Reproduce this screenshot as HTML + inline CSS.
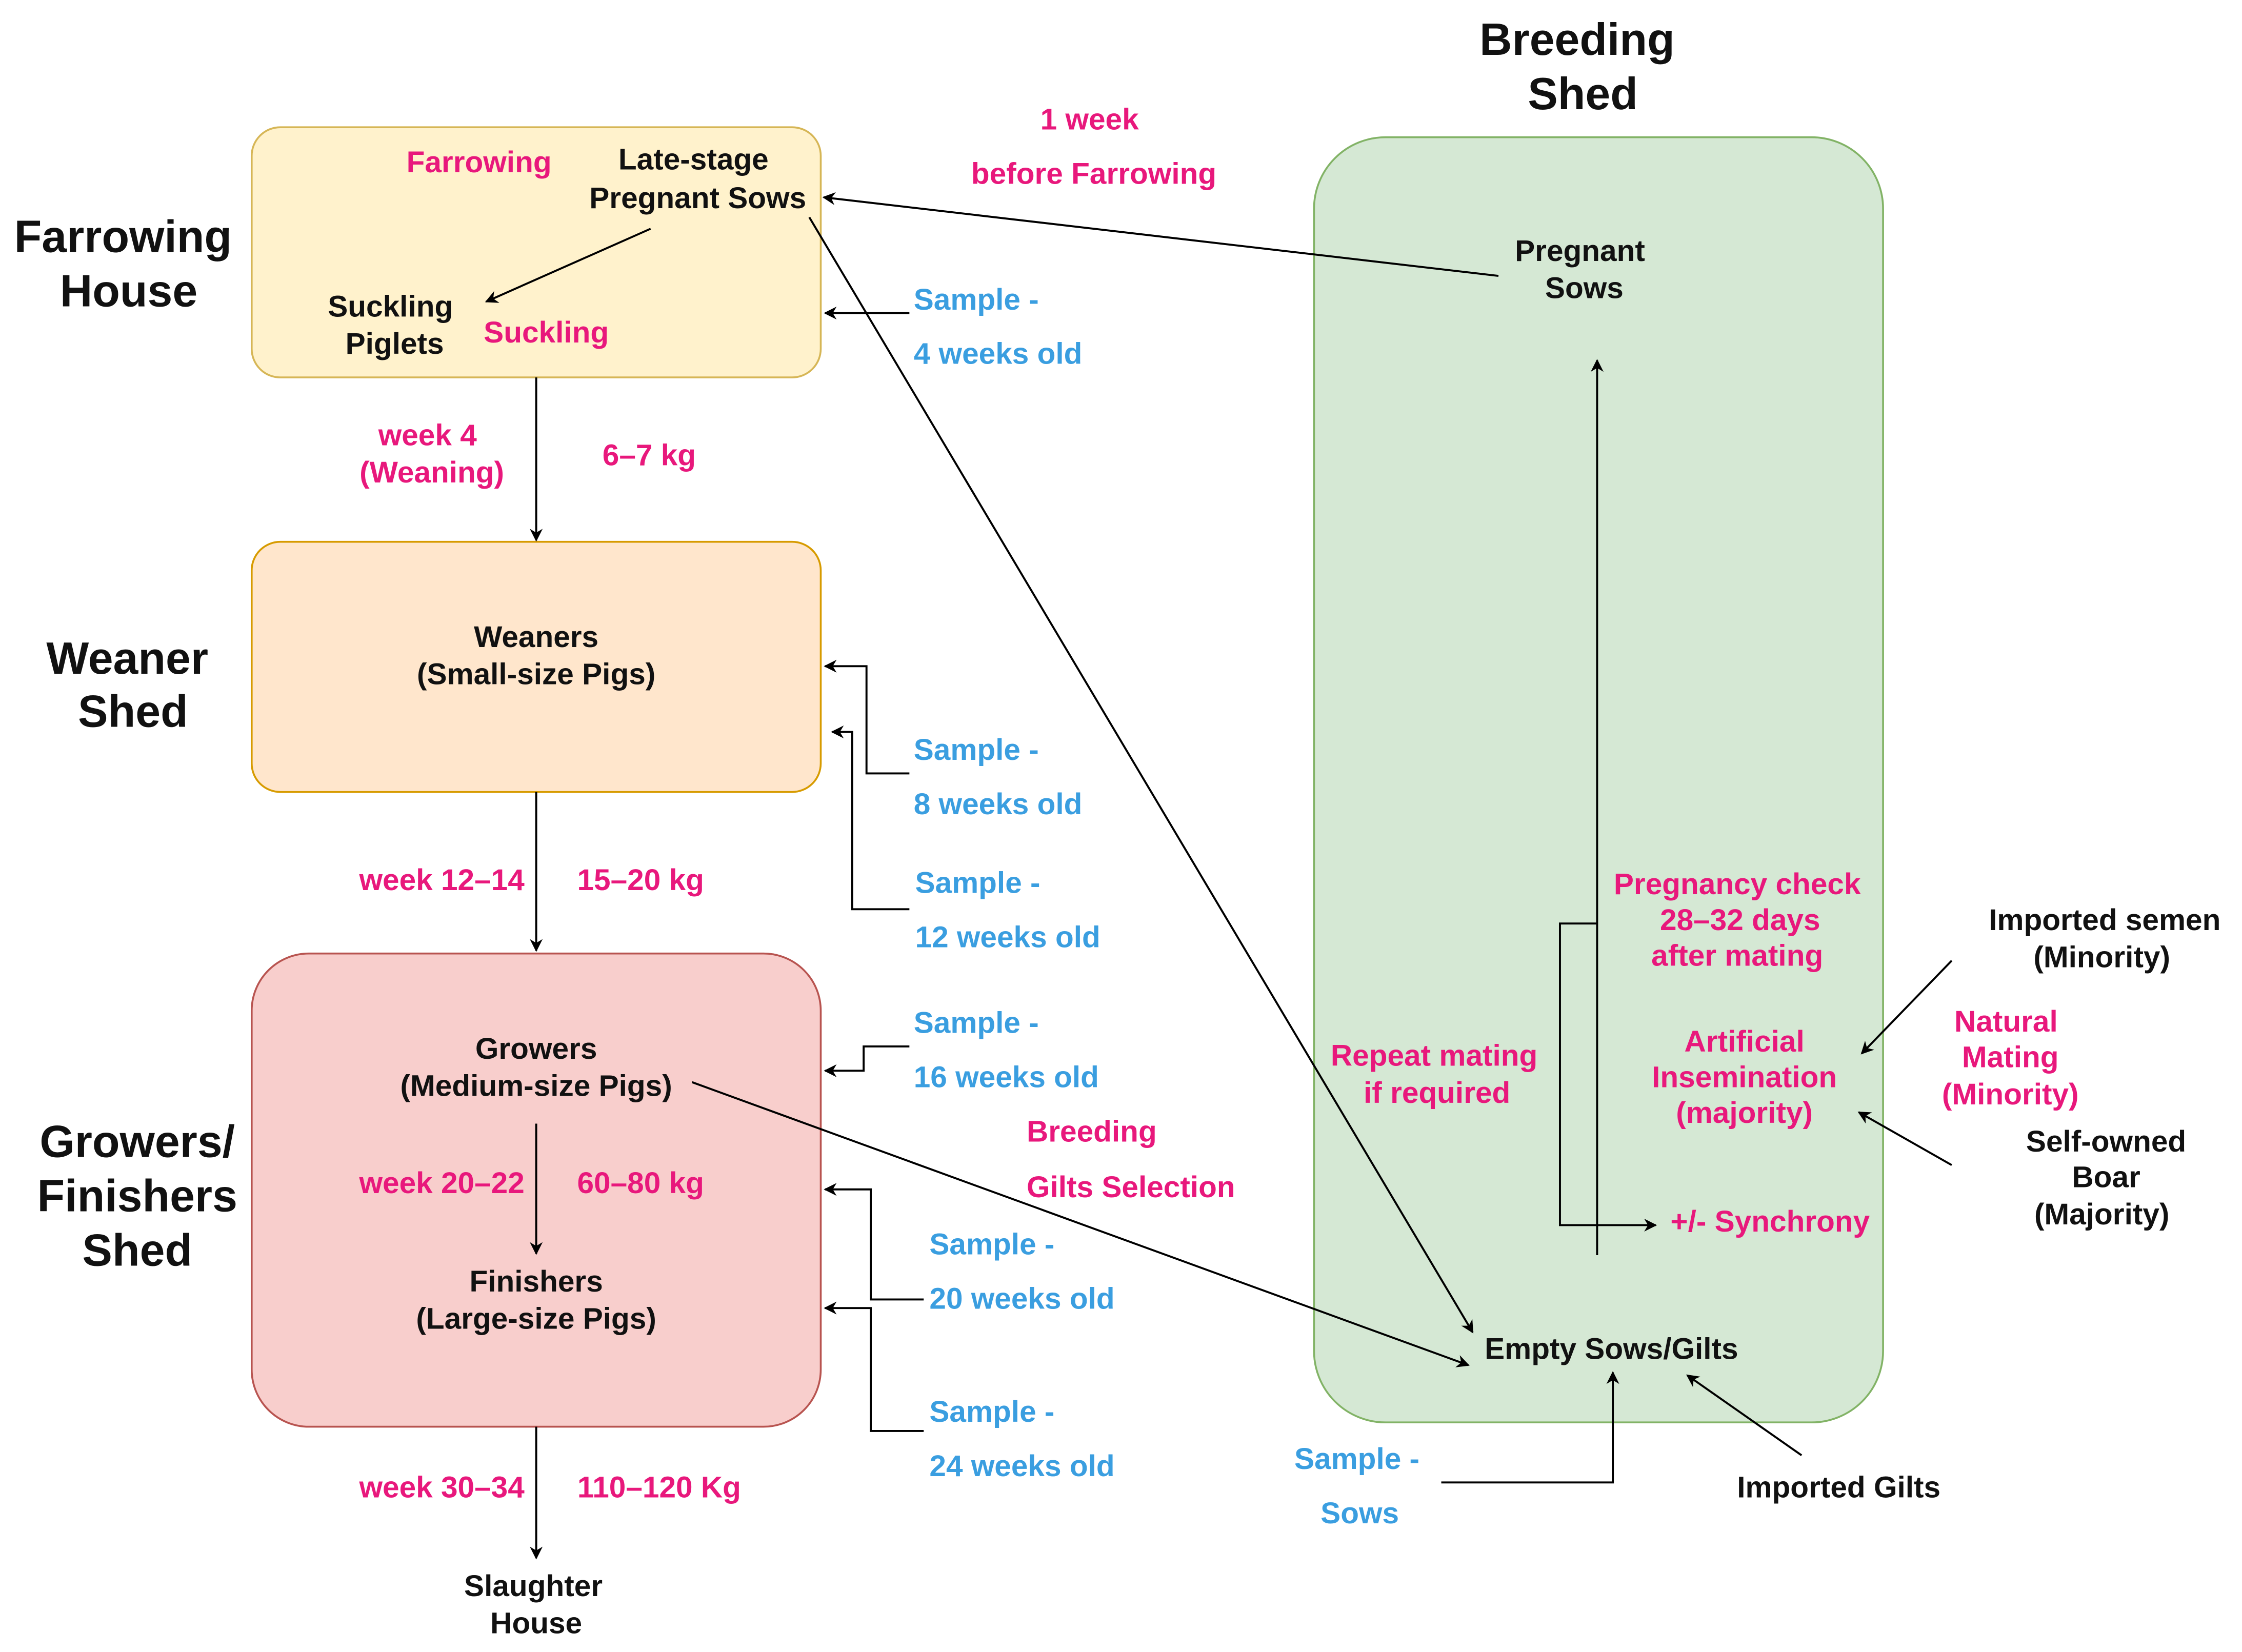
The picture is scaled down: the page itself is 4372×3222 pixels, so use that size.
<!DOCTYPE html>
<html><head><meta charset="utf-8"><style>
html,body{margin:0;padding:0;background:#fff;}
svg{display:block;}
text{font-family:"Liberation Sans",Arial,sans-serif;font-weight:bold;font-size:21px;text-anchor:middle;dominant-baseline:middle;}
.k{fill:#111;}
.p{fill:#e8187c;}
.b{fill:#3a9ee0;}
.l{text-anchor:start;}
.h{font-size:31.5px;fill:#111;}
line,polyline,path{stroke:#000;stroke-width:1.4;fill:none;}
</style></head><body>
<svg width="4372" height="3222" viewBox="0 0 1568 1155.6" xmlns="http://www.w3.org/2000/svg">
<defs><marker id="a" viewBox="0 0 10 10" refX="9" refY="5" markerWidth="9" markerHeight="9" orient="auto-start-reverse" markerUnits="userSpaceOnUse"><path d="M0,0 L10,5 L0,10 L3,5 z" style="fill:#000;stroke:none"/></marker></defs>
<rect x="176" y="89" width="398" height="175" rx="20" fill="#fff2cc" stroke="#d6b656" stroke-width="1.3"/>
<rect x="176" y="379" width="398" height="175" rx="20" fill="#ffe6cc" stroke="#d79b00" stroke-width="1.3"/>
<rect x="176" y="667" width="398" height="331" rx="40" fill="#f8cecc" stroke="#b85450" stroke-width="1.3"/>
<rect x="919" y="96" width="398" height="899" rx="50" fill="#d5e8d4" stroke="#82b366" stroke-width="1.3"/>

<text class="h" x="86" y="168">Farrowing</text><text class="h" x="90" y="206">House</text>
<text class="h" x="89" y="463">Weaner</text><text class="h" x="93" y="500">Shed</text>
<text class="h" x="96" y="801">Growers/</text><text class="h" x="96" y="839">Finishers</text><text class="h" x="96" y="877">Shed</text>
<text class="h" x="1103" y="30">Breeding</text><text class="h" x="1107" y="68">Shed</text>

<g marker-end="url(#a)">
<line x1="1048" y1="193" x2="576" y2="138"/>
<line x1="636" y1="219" x2="577" y2="219"/>
<line x1="566" y1="152" x2="1030" y2="932"/>
<line x1="455" y1="160" x2="340" y2="211"/>
<line x1="375" y1="264" x2="375" y2="378"/>
<line x1="375" y1="554" x2="375" y2="665"/>
<line x1="375" y1="786" x2="375" y2="877"/>
<line x1="375" y1="998" x2="375" y2="1090"/>
<polyline points="636,541 606,541 606,466 577,466"/>
<polyline points="636,636 596,636 596,512 582,512"/>
<polyline points="636,732 604,732 604,749 577,749"/>
<polyline points="646,909 609,909 609,832 577,832"/>
<polyline points="646,1001 609,1001 609,915 577,915"/>
<line x1="484" y1="757" x2="1027" y2="955"/>
<line x1="1117" y1="878" x2="1117" y2="252"/>
<polyline points="1117,646 1091,646 1091,857 1158,857"/>
<line x1="1365" y1="672" x2="1302" y2="737"/>
<line x1="1365" y1="815" x2="1300" y2="778"/>
<polyline points="1008,1037 1128,1037 1128,960"/>
<line x1="1260" y1="1018" x2="1180" y2="962"/>
</g>

<text class="p" x="762" y="85">1 week</text><text class="p" x="765" y="123">before Farrowing</text>
<text class="p" x="335" y="115">Farrowing</text>
<text class="k" x="485" y="113">Late-stage</text><text class="k" x="488" y="140">Pregnant Sows</text>
<text class="k" x="273" y="216">Suckling</text><text class="k" x="276" y="242">Piglets</text>
<text class="p" x="382" y="234">Suckling</text>
<text class="b l" x="639" y="211">Sample -</text><text class="b l" x="639" y="249">4 weeks old</text>
<text class="p" x="299" y="306">week 4</text><text class="p" x="302" y="332">(Weaning)</text><text class="p" x="454" y="320">6–7 kg</text>
<text class="k" x="375" y="447">Weaners</text><text class="k" x="375" y="473">(Small-size Pigs)</text>
<text class="b l" x="639" y="526">Sample -</text><text class="b l" x="639" y="564">8 weeks old</text>
<text class="b l" x="640" y="619">Sample -</text><text class="b l" x="640" y="657">12 weeks old</text>
<text class="p" x="309" y="617">week 12–14</text><text class="p" x="448" y="617">15–20 kg</text>
<text class="k" x="375" y="735">Growers</text><text class="k" x="375" y="761">(Medium-size Pigs)</text>
<text class="p" x="309" y="829">week 20–22</text><text class="p" x="448" y="829">60–80 kg</text>
<text class="k" x="375" y="898">Finishers</text><text class="k" x="375" y="924">(Large-size Pigs)</text>
<text class="b l" x="639" y="717">Sample -</text><text class="b l" x="639" y="755">16 weeks old</text>
<text class="p l" x="718" y="793">Breeding</text><text class="p l" x="718" y="832">Gilts Selection</text>
<text class="b l" x="650" y="872">Sample -</text><text class="b l" x="650" y="910">20 weeks old</text>
<text class="b l" x="650" y="989">Sample -</text><text class="b l" x="650" y="1027">24 weeks old</text>
<text class="p" x="309" y="1042">week 30–34</text><text class="p" x="461" y="1042">110–120 Kg</text>
<text class="k" x="373" y="1111">Slaughter</text><text class="k" x="375" y="1137">House</text>
<text class="k" x="1105" y="177">Pregnant</text><text class="k" x="1108" y="203">Sows</text>
<text class="p" x="1215" y="620">Pregnancy check</text><text class="p" x="1217" y="645">28–32 days</text><text class="p" x="1215" y="670">after mating</text>
<text class="p" x="1003" y="740">Repeat mating</text><text class="p" x="1005" y="766">if required</text>
<text class="p" x="1220" y="730">Artificial</text><text class="p" x="1220" y="755">Insemination</text><text class="p" x="1220" y="780">(majority)</text>
<text class="p" x="1238" y="856">+/- Synchrony</text>
<text class="k" x="1127" y="945">Empty Sows/Gilts</text>
<text class="k" x="1472" y="645">Imported semen</text><text class="k" x="1470" y="671">(Minority)</text>
<text class="p" x="1403" y="716">Natural</text><text class="p" x="1406" y="741">Mating</text><text class="p" x="1406" y="767">(Minority)</text>
<text class="k" x="1473" y="800">Self-owned</text><text class="k" x="1473" y="825">Boar</text><text class="k" x="1470" y="851">(Majority)</text>
<text class="k" x="1286" y="1042">Imported Gilts</text>
<text class="b" x="949" y="1022">Sample -</text><text class="b" x="951" y="1060">Sows</text>
</svg>
</body></html>
